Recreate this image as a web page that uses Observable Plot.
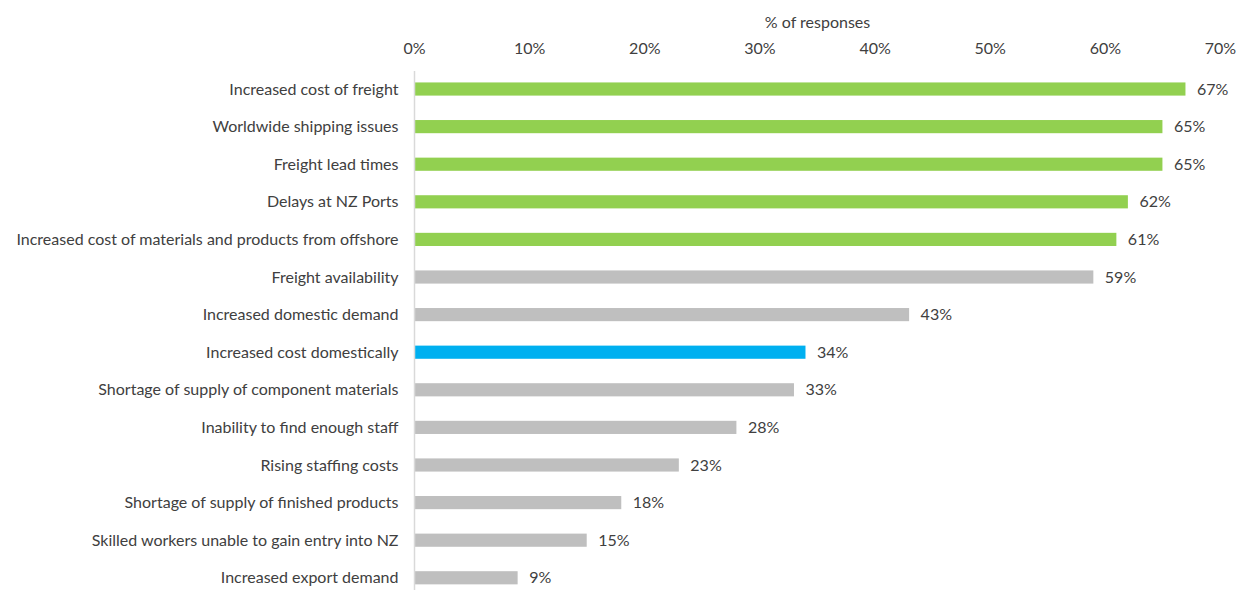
<!DOCTYPE html>
<html>
<head>
<meta charset="utf-8">
<script src="https://cdn.jsdelivr.net/npm/d3@7"></script>
<script src="https://cdn.jsdelivr.net/npm/@observablehq/plot@0.6"></script>
<style>
  html, body { margin: 0; padding: 0; background: #fff; }
  #chart svg { display: block; }
</style>
</head>
<body>
<div id="chart"></div>
<script>
const categories = [
  "Increased cost of freight",
  "Worldwide shipping issues",
  "Freight lead times",
  "Delays at NZ Ports",
  "Increased cost of materials and products from offshore",
  "Freight availability",
  "Increased domestic demand",
  "Increased cost domestically",
  "Shortage of supply of component materials",
  "Inability to find enough staff",
  "Rising staffing costs",
  "Shortage of supply of finished products",
  "Skilled workers unable to gain entry into NZ",
  "Increased export demand"
];
const values = [0.67, 0.65, 0.65, 0.62, 0.61, 0.59, 0.43, 0.34, 0.33, 0.28, 0.23, 0.18, 0.15, 0.09];
const groups = ["freight", "freight", "freight", "freight", "freight", "other", "other", "highlight", "other", "other", "other", "other", "other", "other"];
const xTicks = [0, 0.1, 0.2, 0.3, 0.4, 0.5, 0.6, 0.7];

const data = categories.map((c, i) => ({category: c, value: values[i], group: groups[i]}));

const font = "Lato, 'Open Sans', sans-serif";

const chart = Plot.plot({
  width: 1237,
  height: 590,
  marginLeft: 414,
  marginRight: 17,
  marginTop: 71,
  marginBottom: 0,
  style: {fontFamily: font, fontSize: "16px", color: "#404040", background: "#fff"},
  x: {domain: [0, 0.7]},
  y: {domain: categories, range: [58, 608.8], padding: 0.65, round: false},
  color: {domain: ["freight", "other", "highlight"], range: ["#92D050", "#BFBFBF", "#00B0F0"]},
  marks: [
    Plot.barX(data, {x: "value", y: "category", fill: "group"}),
    Plot.ruleX([0], {stroke: "#D9D9D9", strokeWidth: 1.5}),
    Plot.text(data, {x: "value", y: "category", text: d => d3.format(".0%")(d.value), textAnchor: "start", dx: 11, fill: "#404040"}),
    Plot.axisX({anchor: "top", ticks: xTicks, tickFormat: d3.format(".0%"), tickSize: 0, tickPadding: 18, label: "% of responses", labelAnchor: "center", labelArrow: "none", labelOffset: 55, fill: "#404040"}),
    Plot.axisY({tickSize: 0, tickPadding: 16, label: null, fill: "#404040"})
  ]
});

document.getElementById("chart").appendChild(chart);
</script>
</body>
</html>
